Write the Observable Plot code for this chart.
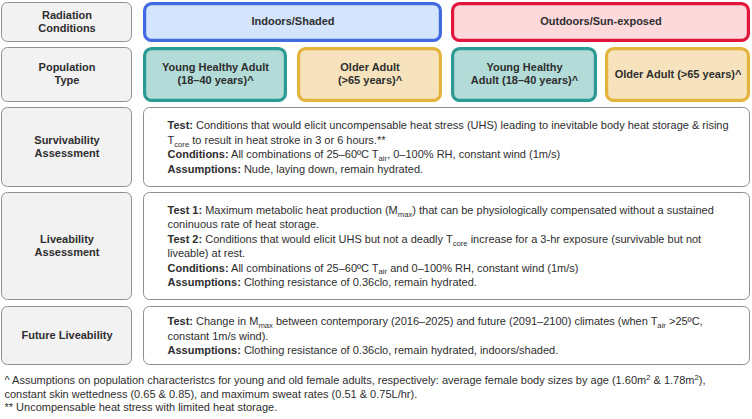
<!DOCTYPE html>
<html><head><meta charset="utf-8">
<script src="https://cdn.jsdelivr.net/npm/d3@7"></script>
<script src="https://cdn.jsdelivr.net/npm/@observablehq/plot@0.6"></script>
<style>body{margin:0;background:#fff} svg{display:block} text{white-space:pre}</style>
</head><body><div id="chart"></div>
<script>
// ---- content ----
const rowLabels = ["Radiation\nConditions", "Population\nType", "Survivability\nAssessment", "Liveability\nAssessment", "Future Liveability"];
const radiation = ["Indoors/Shaded", "Outdoors/Sun-exposed"];
const population = ["Young Healthy Adult\n(18–40 years)^", "Older Adult\n(>65 years)^", "Young Healthy\nAdult (18–40 years)^", "Older Adult (>65 years)^"];
const populationGroup = ["young", "older", "young", "older"];
const survivability = [
  "[b]Test:[/b] Conditions that would elicit uncompensable heat stress (UHS) leading to inevitable body heat storage & rising",
  "T[sub]core[/sub] to result in heat stroke in 3 or 6 hours.**",
  "[b]Conditions:[/b] All combinations of 25–60ºC T[sub]air[/sub], 0–100% RH, constant wind (1m/s)",
  "[b]Assumptions:[/b] Nude, laying down, remain hydrated."
];
const liveability = [
  "[b]Test 1:[/b] Maximum metabolic heat production (M[sub]max[/sub]) that can be physiologically compensated without a sustained",
  "coninuous rate of heat storage.",
  "[b]Test 2:[/b] Conditions that would elicit UHS but not a deadly T[sub]core[/sub] increase for a 3-hr exposure (survivable but not",
  "liveable) at rest.",
  "[b]Conditions:[/b] All combinations of 25–60ºC T[sub]air[/sub] and 0–100% RH, constant wind (1m/s)",
  "[b]Assumptions:[/b] Clothing resistance of 0.36clo, remain hydrated."
];
const futureLiveability = [
  "[b]Test:[/b] Change in M[sub]max[/sub] between contemporary (2016–2025) and future (2091–2100) climates (when T[sub]air[/sub] >25ºC,",
  "constant 1m/s wind).",
  "[b]Assumptions:[/b] Clothing resistance of 0.36clo, remain hydrated, indoors/shaded."
];
const footnotes = [
  "^ Assumptions on population characteristcs for young and old female adults, respectively: average female body sizes by age (1.60m[sup]2[/sup] & 1.78m[sup]2[/sup]),",
  "constant skin wettedness (0.65 & 0.85), and maximum sweat rates (0.51 & 0.75L/hr).",
  "** Uncompensable heat stress with limited heat storage."
];

// ---- layout (diagram geometry) ----
const W = 752, H = 419;
const labelCol = [1, 132];
const radCols = [[143, 442], [451, 750]];
const popCols = [[143, 287], [297, 442], [451, 597], [605, 750]];
const contentCol = [143, 750];
const rowEdges = [[2, 42], [47, 102], [107, 187], [192, 300], [306, 365]];
const textX = 167, lineStep = 14.4;
const footX = 4, footY0 = 380, footStep = 13.7;

// ---- styles ----
const ink = "#2e2e2e";
const FS = 11;
const radFill = ["#d3e4fc", "#fdd9dc"], radStroke = ["#4169e1", "#e0163c"];
const groupFill = {young: "#b3dcd8", older: "#f6e3bd"}, groupStroke = {young: "#2a9a92", older: "#e4b33b"};
const FONT = "Liberation Sans, Arial, Helvetica, sans-serif";

// ---- build tables ----
const labelBoxes = rowLabels.map((t, i) => ({text: t, x1: labelCol[0], x2: labelCol[1], y1: rowEdges[i][0], y2: rowEdges[i][1]}));
const radBoxes = radiation.map((t, i) => ({text: t, x1: radCols[i][0], x2: radCols[i][1], y1: rowEdges[0][0], y2: rowEdges[0][1], fill: radFill[i], stroke: radStroke[i]}));
const popBoxes = population.map((t, i) => ({text: t, x1: popCols[i][0], x2: popCols[i][1], y1: rowEdges[1][0], y2: rowEdges[1][1], fill: groupFill[populationGroup[i]], stroke: groupStroke[populationGroup[i]]}));
const contents = [survivability, liveability, futureLiveability];
const contentBoxes = contents.map((lines, k) => ({x1: contentCol[0], x2: contentCol[1], y1: rowEdges[k + 2][0], y2: rowEdges[k + 2][1]}));
const contentLines = contents.flatMap((lines, k) => {
  const [a, b] = rowEdges[k + 2], c = (a + b) / 2;
  return lines.map((t, j) => ({text: t, x: textX, y: c + (j - (lines.length - 1) / 2) * lineStep}));
});
const footLines = footnotes.map((t, j) => ({text: t, x: footX, y: footY0 + j * footStep}));

const cx = d => (d.x1 + d.x2) / 2, cy = d => (d.y1 + d.y2) / 2;

const chart = Plot.plot({
  width: W, height: H,
  margin: 0,
  style: {fontFamily: FONT, background: "#fff"},
  x: {domain: [0, W], range: [0, W], axis: null},
  y: {domain: [0, H], range: [0, H], axis: null},
  marks: [
    Plot.rect(labelBoxes, {x1: "x1", x2: "x2", y1: "y1", y2: "y2", fill: "#f2f2f3", stroke: "#8f8f8f", strokeWidth: 1, rx: 6, inset: 0.5}),
    Plot.rect(contentBoxes, {x1: "x1", x2: "x2", y1: "y1", y2: "y2", fill: "#ffffff", stroke: "#8f8f8f", strokeWidth: 1, rx: 6, inset: 0.5}),
    Plot.rect(radBoxes, {x1: "x1", x2: "x2", y1: "y1", y2: "y2", fill: d => d.fill, stroke: d => d.stroke, strokeWidth: 3.2, rx: 7, inset: 1.6}),
    Plot.rect(popBoxes, {x1: "x1", x2: "x2", y1: "y1", y2: "y2", fill: d => d.fill, stroke: d => d.stroke, strokeWidth: 3.2, rx: 7, inset: 1.6}),
    Plot.text(labelBoxes, {x: cx, y: cy, dy: -1.5, text: "text", fontWeight: "bold", fontSize: FS, lineHeight: 1.18, fill: ink}),
    Plot.text(radBoxes, {x: cx, y: cy, dy: -1, text: "text", fontWeight: "bold", fontSize: FS, fill: ink}),
    Plot.text(popBoxes, {x: cx, y: cy, dy: -1.5, text: "text", fontWeight: "bold", fontSize: FS, lineHeight: 1.18, fill: ink}),
    Plot.text(contentLines, {x: "x", y: "y", text: "text", textAnchor: "start", fontSize: FS, fill: ink}),
    Plot.text(footLines, {x: "x", y: "y", text: "text", textAnchor: "start", fontSize: FS, fill: ink})
  ]
});

// rich text: bold / subscript / superscript markup inside the text marks
const MARK = /\[(\/?(?:b|sub|sup))\]/;
d3.select(chart).selectAll("text").each(function () {
  if (this.querySelector("tspan")) return;
  const raw = this.textContent;
  if (!MARK.test(raw)) return;
  const el = d3.select(this);
  el.text(null);
  const parts = raw.split(MARK);
  let bold = false, mode = "", shift = 0;
  parts.forEach((p, i) => {
    if (i % 2 === 1) {
      if (p === "b") bold = true; else if (p === "/b") bold = false;
      else if (p === "sub") mode = "sub"; else if (p === "sup") mode = "sup"; else mode = "";
      return;
    }
    if (!p) return;
    const target = mode === "sub" ? 2.7 : mode === "sup" ? -3.8 : 0;
    const ts = el.append("tspan").text(p);
    if (bold) ts.attr("font-weight", "bold");
    if (mode) ts.attr("font-size", "7.7px");
    if (target !== shift) { ts.attr("dy", target - shift); shift = target; }
  });
});

document.getElementById("chart").appendChild(chart);
</script>
</body></html>
